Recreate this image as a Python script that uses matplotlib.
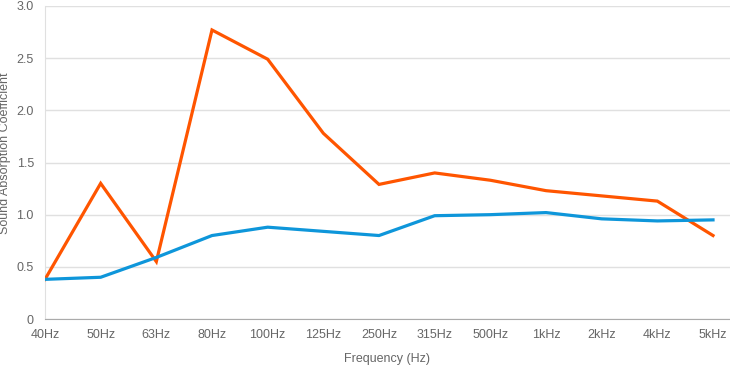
import matplotlib
matplotlib.use("Agg")
import matplotlib.pyplot as plt

categories = ["40Hz", "50Hz", "63Hz", "80Hz", "100Hz", "125Hz", "250Hz",
              "315Hz", "500Hz", "1kHz", "2kHz", "4kHz", "5kHz"]
orange_vals = [0.38, 1.30, 0.55, 2.77, 2.49, 1.78, 1.29, 1.40, 1.33, 1.23, 1.18, 1.13, 0.80]
blue_vals = [0.38, 0.40, 0.59, 0.80, 0.88, 0.84, 0.80, 0.99, 1.00, 1.02, 0.96, 0.94, 0.95]
yticks = [0, 0.5, 1.0, 1.5, 2.0, 2.5, 3.0]
ytick_labels = ["0", "0.5", "1.0", "1.5", "2.0", "2.5", "3.0"]

plt.rcParams['font.family'] = ['Liberation Sans', 'DejaVu Sans']

fig = plt.figure(figsize=(7.3, 3.65), dpi=100)
ax = fig.add_axes([45/730, 1-319/365, 1-45/730, (319-6)/365])

x = list(range(len(categories)))
ax.plot(x, orange_vals, color="#FF5500", lw=2.3, solid_joinstyle="miter", zorder=3)
ax.plot(x, blue_vals, color="#0E96DA", lw=2.3, zorder=3)

ax.set_xlim(0, 12 + 17/55.7)
ax.set_ylim(0, 3.0)
ax.set_yticks(yticks)
ax.set_yticklabels(ytick_labels)
ax.set_xticks(x)
ax.set_xticklabels(categories)
ax.grid(axis="y", color="#e0e0e0", lw=1)
ax.set_axisbelow(True)
for s in ["top", "right"]:
    ax.spines[s].set_visible(False)
ax.spines["left"].set_color("#e0e0e0")
ax.spines["bottom"].set_color("#aaaaaa")
ax.tick_params(axis="both", length=0, colors="#666666", labelsize=9)
ax.tick_params(axis="x", pad=7)
ax.tick_params(axis="y", pad=8)
ax.set_xlabel("Frequency (Hz)", color="#666666", fontsize=9, labelpad=9)
ax.set_ylabel("Sound Absorption Coefficient", color="#666666", fontsize=9)
ax.yaxis.set_label_coords((11 - 45) / 685, (319 - 153) / 313)

fig.savefig("out.png", dpi=100)
